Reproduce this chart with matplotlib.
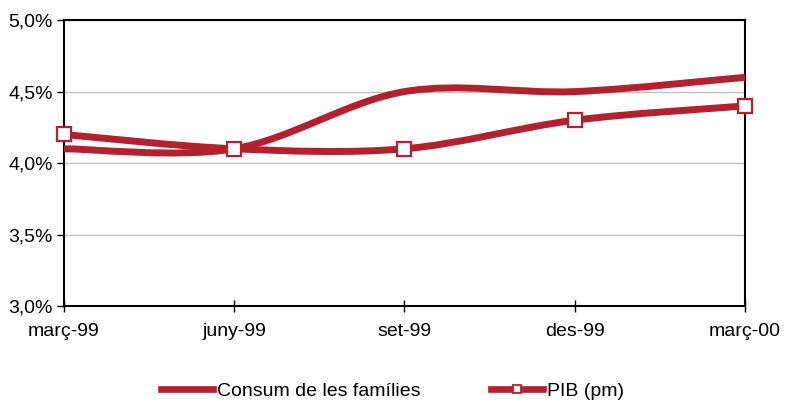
import matplotlib.pyplot as plt
import numpy as np
from matplotlib.path import Path
from matplotlib.patches import PathPatch
from matplotlib.lines import Line2D
from matplotlib.ticker import FuncFormatter

plt.rcParams['font.family'] = ['Liberation Sans', 'DejaVu Sans']

# dades
trimestres = ['març-99', 'juny-99', 'set-99', 'des-99', 'març-00']
consum = [4.1, 4.1, 4.5, 4.5, 4.6]
pib = [4.2, 4.1, 4.1, 4.3, 4.4]

vermell = '#B3212F'


# corba suavitzada (bezier tipus Excel) a partir dels punts
def corba(x, y):
    p = np.column_stack([x, y]).astype(float)
    n = len(p)
    verts = [p[0]]
    codes = [Path.MOVETO]
    for i in range(n - 1):
        ant = p[i - 1] if i > 0 else p[i]
        seg = p[i + 2] if i + 2 < n else p[i + 1]
        c1 = p[i] + (p[i + 1] - ant) / 6
        c2 = p[i + 1] - (seg - p[i]) / 6
        verts += [c1, c2, p[i + 1]]
        codes += [Path.CURVE4] * 3
    return Path(verts, codes)


fig = plt.figure(figsize=(7.85, 4.03), dpi=100)
ax = fig.add_axes([0.0815, 0.2407, 0.8675, 0.7093])

x = np.arange(len(trimestres))
for serie in (consum, pib):
    ax.add_patch(PathPatch(corba(x, serie), fill=False, edgecolor=vermell,
                           lw=5.0, capstyle='butt', joinstyle='round', zorder=3,
                           clip_on=False))
ax.plot(x, pib, ls='none', marker='s', ms=9.5, mfc='white', mec=vermell,
        mew=1.6, zorder=4, clip_on=False)

ax.set_xlim(0, 4)
ax.set_ylim(3.0, 5.0)
ax.set_yticks([3.0, 3.5, 4.0, 4.5, 5.0])
ax.yaxis.set_major_formatter(FuncFormatter(lambda v, p: f'{v:.1f}%'.replace('.', ',')))
ax.set_xticks(x)
ax.set_xticklabels(trimestres)
ax.grid(axis='y', color='#C0C0C0', lw=1)
ax.set_axisbelow(True)
for s in ax.spines.values():
    s.set_linewidth(1.5)
    s.set_color('black')
ax.tick_params(axis='y', direction='out', length=5, width=1, labelsize=14, pad=3)
ax.tick_params(axis='x', direction='inout', length=8, width=1, labelsize=14, pad=8)

handles = [Line2D([], [], color=vermell, lw=4.8),
           Line2D([], [], color=vermell, lw=4.8, marker='s', ms=5.5, mfc='white',
                  mec=vermell, mew=1.3)]
fig.legend(handles, ['Consum de les famílies', 'PIB (pm)'], loc='center',
           bbox_to_anchor=(0.5, 0.03), ncol=2, frameon=False, fontsize=14,
           handlelength=2.7, handletextpad=0.2, columnspacing=3.6)

fig.savefig('out.png', dpi=100)
